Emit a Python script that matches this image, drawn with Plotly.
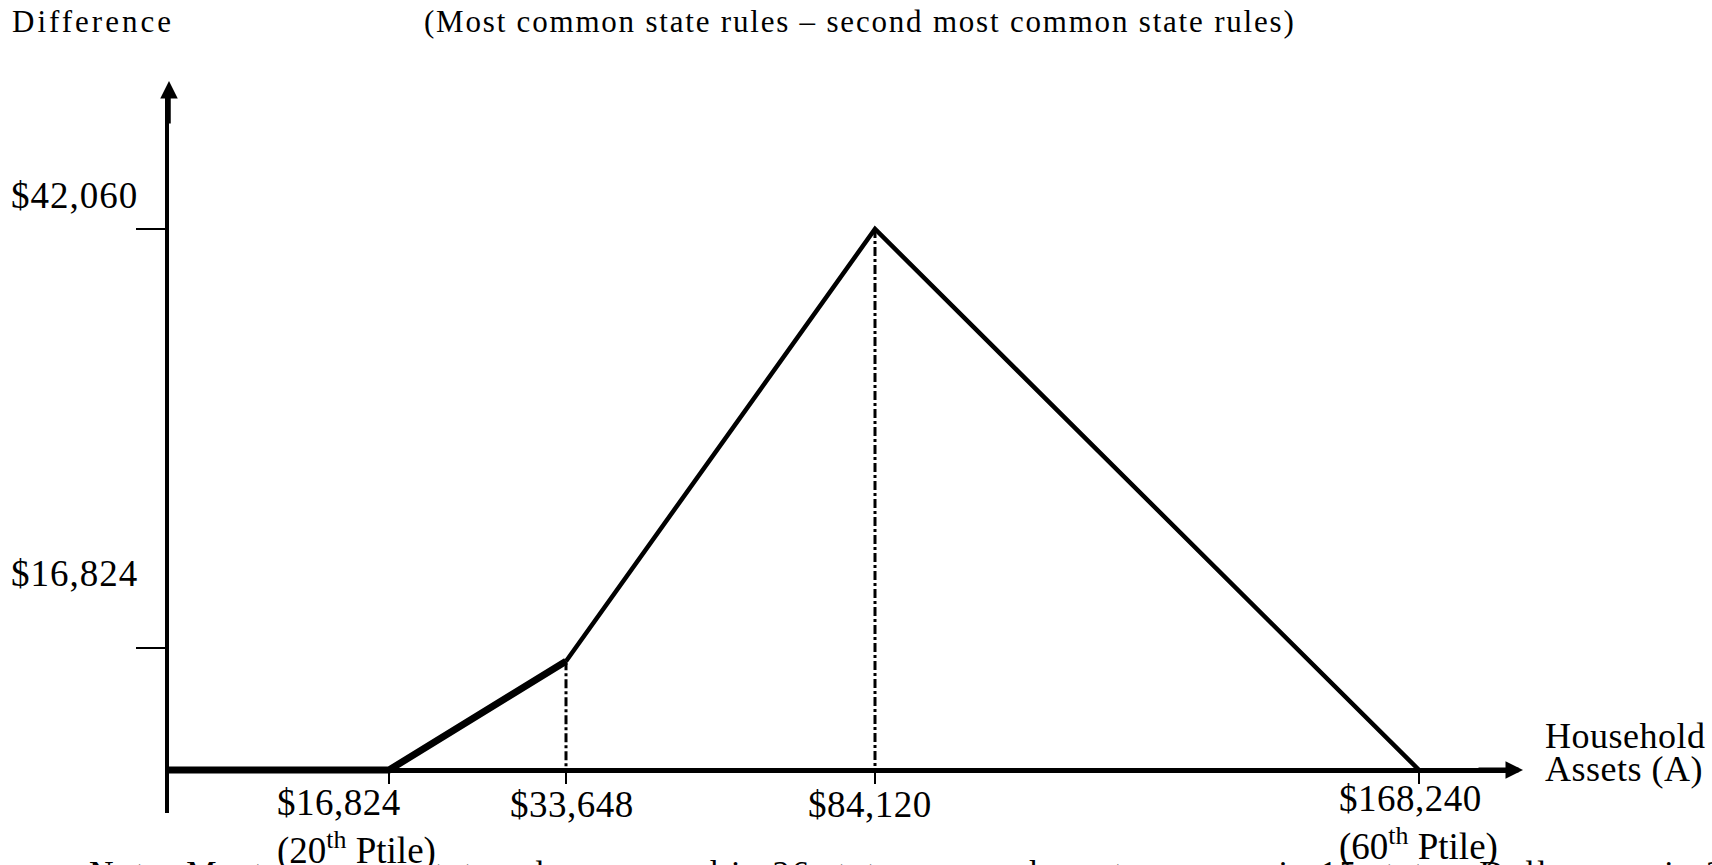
import numpy as np
import plotly.graph_objects as go

# ---------------- data ----------------
CURVE_ASSETS = [0, 16824, 33648, 84120, 168240]
CURVE_DIFF = [0, 0, 15000, 42060, 0]
BOLD_POINTS = 3                      # first three points drawn in bold
GUIDE_ASSETS = [33648, 84120]        # dash-dot drop lines

X_TICK_VALUES = [16824, 33648, 84120, 168240]
X_TICK_LABELS = ["$16,824", "$33,648", "$84,120", "$168,240"]
X_TICK_NOTES = ["(20<sup>th</sup> Ptile)", "", "", "(60<sup>th</sup> Ptile)"]
Y_TICK_VALUES = [16824, 42060]
Y_TICK_LABELS = ["$16,824", "$42,060"]

TITLE = "(Most common state rules \u2013 second most common state rules)"
Y_TITLE = "Difference"
X_TITLE = ["Household", "Assets (A)"]
NOTE = ("Note: Most common state rules are used in 26 states, second most common "
        "in 15 states. Dollars are in 2000. The")

# ---------------- schematic (not to scale) axis scale ----------------
SCALE_X_VALUES = [0, 16824, 33648, 84120, 168240]
SCALE_X_UNITS = [0, 220, 397, 706, 1250]
SCALE_Y_VALUES = [0, 16824, 42060]
SCALE_Y_UNITS = [0, 122, 541]


def sx(v):
    return np.interp(v, SCALE_X_VALUES, SCALE_X_UNITS)


def sy(v):
    return np.interp(v, SCALE_Y_VALUES, SCALE_Y_UNITS)


# ---------------- layout geometry ----------------
W, H = 1712, 865
ML, MR, MT, MB = 169, 205, 95, 52
PW, PH = W - ML - MR, H - MT - MB
X_RANGE = [0, PW]
Y_BELOW = 43
Y_RANGE = [-Y_BELOW, PH - Y_BELOW]


def paper_x(px):
    return (px - ML) / PW


def paper_y(py):
    return (H - MB - py) / PH


FONT = "Liberation Serif"
BLACK = "#000000"

fig = go.Figure()

# dash-dot drop lines
guide_y = np.interp(GUIDE_ASSETS, CURVE_ASSETS, CURVE_DIFF)
for gx, gy in zip(GUIDE_ASSETS, guide_y):
    fig.add_trace(go.Scatter(
        x=[sx(gx), sx(gx)], y=[sy(gy), sy(0)], mode="lines",
        line=dict(color=BLACK, width=3, dash="9px,3px,3px,3px"),
        hoverinfo="skip", showlegend=False))

cx = sx(CURVE_ASSETS)
cy = sy(CURVE_DIFF)
fig.add_trace(go.Scatter(
    x=cx[BOLD_POINTS - 1:], y=cy[BOLD_POINTS - 1:], mode="lines",
    line=dict(color=BLACK, width=4.5), showlegend=False, hoverinfo="skip"))
fig.add_trace(go.Scatter(
    x=cx[:BOLD_POINTS], y=cy[:BOLD_POINTS], mode="lines",
    line=dict(color=BLACK, width=7), showlegend=False, hoverinfo="skip"))

annotations = []

# axis arrowheads
annotations.append(dict(
    x=PW + 16, y=0, ax=PW - 30, ay=0, xref="x", yref="y", axref="x", ayref="y",
    text="", showarrow=True, arrowhead=2, arrowwidth=5, arrowsize=0.7,
    arrowcolor=BLACK, standoff=0))
annotations.append(dict(
    x=0, y=Y_RANGE[1] + 14, ax=0, ay=Y_RANGE[1] - 30, xref="x", yref="y",
    axref="x", ayref="y", text="", showarrow=True, arrowhead=2, arrowwidth=3.5,
    arrowsize=1.0, arrowcolor=BLACK, standoff=0))

LBL = dict(family=FONT, size=37, color=BLACK)


def spaced(t, px):
    return '<span style="letter-spacing:%spx">%s</span>' % (px, t)


# x tick labels
X_LABEL_ANCHOR = ["left", "center", "center", "left"]
X_LABEL_XSHIFT = [-114, 6, -5, -82]
X_LABEL_YSHIFT = [-10, -12, -12, -6]
for v, lab, note, anc, xs, ys in zip(X_TICK_VALUES, X_TICK_LABELS, X_TICK_NOTES,
                                      X_LABEL_ANCHOR, X_LABEL_XSHIFT, X_LABEL_YSHIFT):
    txt = spaced(lab, 0.5) + ("<br>" + note if note else "")
    annotations.append(dict(
        x=sx(v), y=0, xref="x", yref="y", text=txt, showarrow=False,
        xanchor=anc, align=anc, yanchor="top", xshift=xs, yshift=ys, font=LBL))

# y tick labels
Y_LABEL_YSHIFT = [75, 34]
for v, lab, ys in zip(Y_TICK_VALUES, Y_TICK_LABELS, Y_LABEL_YSHIFT):
    annotations.append(dict(
        x=0, y=sy(v), xref="x", yref="y", text=spaced(lab, 1), showarrow=False,
        xanchor="left", yanchor="middle", xshift=-160, yshift=ys, font=LBL))

# axis titles
annotations.append(dict(
    x=paper_x(10), y=paper_y(22), xref="paper", yref="paper",
    text=spaced(Y_TITLE, 3), showarrow=False, xanchor="left", yanchor="middle",
    font=dict(family=FONT, size=31, color=BLACK)))
annotations.append(dict(
    x=paper_x(860), y=paper_y(22), xref="paper", yref="paper",
    text=spaced(TITLE, 1.8), showarrow=False, xanchor="center", yanchor="middle",
    font=dict(family=FONT, size=31, color=BLACK)))
for t, cyy in zip(X_TITLE, [736, 769]):
    annotations.append(dict(
        x=paper_x(1543), y=paper_y(cyy), xref="paper", yref="paper",
        text=spaced(t, 0.5), showarrow=False, xanchor="left", yanchor="middle",
        font=dict(family=FONT, size=36, color=BLACK)))

# note line (cut off at the bottom of the page)
annotations.append(dict(
    x=paper_x(87), y=paper_y(872), xref="paper", yref="paper",
    text=spaced(NOTE, 2.2), showarrow=False, xanchor="left", yanchor="middle",
    font=dict(family=FONT, size=34, color=BLACK)))

fig.update_layout(
    width=W, height=H, autosize=False,
    margin=dict(l=ML, r=MR, t=MT, b=MB, pad=0),
    paper_bgcolor="white", plot_bgcolor="white",
    showlegend=False, annotations=annotations,
    xaxis=dict(range=X_RANGE, showgrid=False, zeroline=False, showline=False,
               anchor="free", position=Y_BELOW / PH,
               tickmode="array", tickvals=list(sx(X_TICK_VALUES)),
               ticktext=[""] * len(X_TICK_VALUES), ticks="outside",
               ticklen=13, tickwidth=1.8, tickcolor=BLACK, fixedrange=True),
    yaxis=dict(range=Y_RANGE, showgrid=False, zeroline=True,
               zerolinecolor=BLACK, zerolinewidth=5,
               showline=True, linecolor=BLACK, linewidth=3.5,
               tickmode="array", tickvals=list(sy(Y_TICK_VALUES)),
               ticktext=[""] * len(Y_TICK_VALUES), ticks="outside",
               ticklen=29, tickwidth=1.5, tickcolor=BLACK, fixedrange=True),
)

fig.write_html("out.html", config={"displayModeBar": False},
               post_script="document.body.style.margin='0';")
